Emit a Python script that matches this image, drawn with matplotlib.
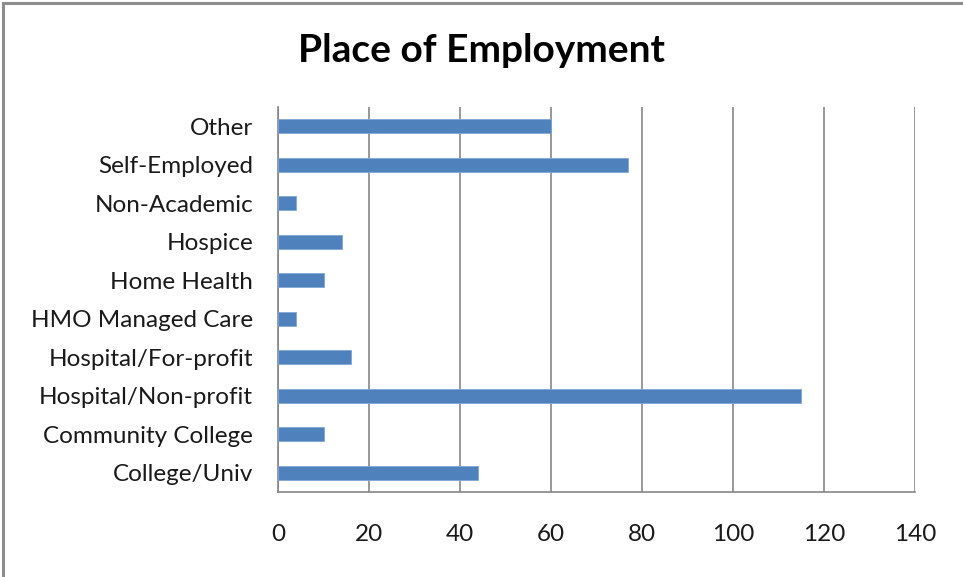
import matplotlib
matplotlib.use("Agg")
import matplotlib.pyplot as plt
from matplotlib.lines import Line2D

categories = ["College/Univ", "Community College", "Hospital/Non-profit",
              "Hospital/For-profit", "HMO Managed Care", "Home Health",
              "Hospice", "Non-Academic", "Self-Employed", "Other"]
counts = [44, 10, 115, 16, 4, 10, 14, 4, 77, 60]
x_ticks = [0, 20, 40, 60, 80, 100, 120, 140]
title = "Place of Employment"

plt.rcParams["font.family"] = ["Lato", "DejaVu Sans"]

W, H = 963, 577
fig = plt.figure(figsize=(W / 100, H / 100), dpi=100)
ax = fig.add_axes([278 / W, 1 - 492 / H, (915 - 278) / W, (492 - 107) / H])

grid_color = "#868686"
ax.barh(range(len(categories)), counts, height=0.37, color="#4F81BD",
        edgecolor="#7FA6D6", linewidth=0.6, zorder=3)

ax.set_xlim(0, 140)
ax.set_ylim(-0.5, len(categories) - 0.5)
ax.set_xticks(x_ticks)
ax.set_xticklabels([str(t) for t in x_ticks])
ax.set_yticks(range(len(categories)))
ax.set_yticklabels(categories)
ax.tick_params(axis="x", length=0, pad=23, labelsize=17.5, labelcolor="#1a1a1a")
ax.tick_params(axis="y", length=0, pad=18, labelsize=17.5, labelcolor="#1a1a1a")

ax.xaxis.grid(True, color=grid_color, linewidth=1.2, zorder=0)
ax.set_axisbelow(True)
for side in ["top", "right"]:
    ax.spines[side].set_visible(False)
for side in ["left", "bottom"]:
    ax.spines[side].set_color(grid_color)
    ax.spines[side].set_linewidth(1.2)

fig.text(0.5, 1 - 51 / H, title, ha="center", va="center",
         fontsize=28, fontweight="bold", color="black")

# outer frame along the top and left edges
fig.add_artist(Line2D([3 / W, 1], [1 - 2.5 / H, 1 - 2.5 / H],
                      transform=fig.transFigure, color="#8c8c8c", linewidth=2.2))
fig.add_artist(Line2D([3 / W, 3 / W], [0, 1 - 2.5 / H],
                      transform=fig.transFigure, color="#8c8c8c", linewidth=2.2))

fig.savefig("out.png", dpi=100)
